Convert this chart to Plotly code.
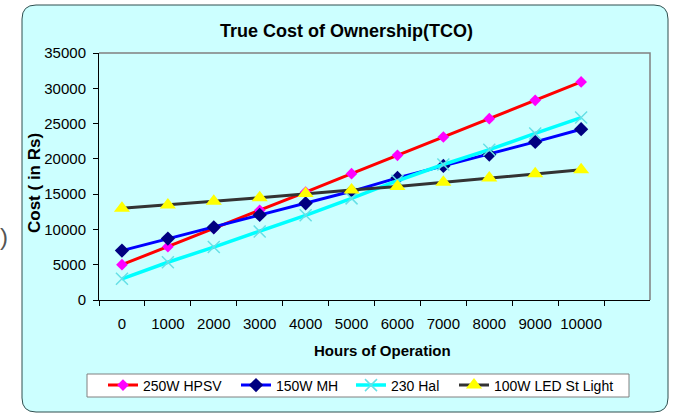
import plotly.graph_objects as go

# ---------------- data ----------------
hours = ["0", "1000", "2000", "3000", "4000", "5000", "6000", "7000", "8000", "9000", "10000"]
hpsv_250w = [5000, 7550, 10150, 12700, 15300, 17900, 20500, 23100, 25700, 28300, 30900]
mh_150w = [7000, 8700, 10300, 12050, 13700, 15400, 17300, 19000, 20600, 22400, 24200]
hal_230 = [3000, 5350, 7500, 9700, 12000, 14400, 16900, 19200, 21300, 23600, 25850]
led_100w = [13000, 13450, 14000, 14500, 15100, 15600, 16100, 16700, 17300, 17900, 18450]
y_ticks = [0, 5000, 10000, 15000, 20000, 25000, 30000, 35000]
series_names = ["250W HPSV", "150W MH", "230 Hal", "100W LED St Light"]

# ---------------- layout geometry (pixels) ----------------
W, H = 673, 414
L, R, T, B = 99, 23, 53, 114
PW, PH = W - L - R, H - T - B


def fx(p):
    return (p - L) / PW


def fy(p):
    return (H - B - p) / PH


FONT = "Liberation Sans, Arial, sans-serif"

fig = go.Figure()
fig.add_trace(go.Scatter(
    x=hours, y=hpsv_250w, name=series_names[0], mode="lines+markers", legend="legend",
    line=dict(color="#FF0000", width=3),
    marker=dict(symbol="diamond", size=9, color="#FF00FF")))
fig.add_trace(go.Scatter(
    x=hours, y=mh_150w, name=series_names[1], mode="lines+markers", legend="legend2",
    line=dict(color="#0000FF", width=3),
    marker=dict(symbol="diamond", size=11, color="#000080")))
fig.add_trace(go.Scatter(
    x=hours, y=hal_230, name=series_names[2], mode="lines+markers", legend="legend3",
    line=dict(color="#00FFFF", width=3.5),
    marker=dict(symbol="x-thin", size=12, color="#66E0E6",
                line=dict(color="#66E0E6", width=1.5))))
fig.add_trace(go.Scatter(
    x=hours, y=led_100w, name=series_names[3], mode="lines+markers", legend="legend4",
    line=dict(color="#333333", width=3),
    marker=dict(symbol="triangle-up", size=14, color="#FFFF00")))

shapes = []
r = 14
x0, x1, y0, y1 = 22, 668, 5, 412
path = (f"M {fx(x0 + r)},{fy(y0)} L {fx(x1 - r)},{fy(y0)} "
        f"Q {fx(x1)},{fy(y0)} {fx(x1)},{fy(y0 + r)} L {fx(x1)},{fy(y1 - r)} "
        f"Q {fx(x1)},{fy(y1)} {fx(x1 - r)},{fy(y1)} L {fx(x0 + r)},{fy(y1)} "
        f"Q {fx(x0)},{fy(y1)} {fx(x0)},{fy(y1 - r)} L {fx(x0)},{fy(y0 + r)} "
        f"Q {fx(x0)},{fy(y0)} {fx(x0 + r)},{fy(y0)} Z")
shapes.append(dict(type="path", path=path, xref="paper", yref="paper", layer="below",
                   fillcolor="#CCFFFF", line=dict(color="#2F4F4F", width=1)))
# legend box
shapes.append(dict(type="rect", xref="paper", yref="paper", layer="below",
                   x0=fx(87), x1=fx(629), y0=fy(374), y1=fy(397),
                   fillcolor="#FFFFFF", line=dict(color="#808080", width=1)))
# plot-area border (top and right)
shapes.append(dict(type="path", xref="paper", yref="paper", layer="above",
                   path="M 0,1 L 1,1 L 1,0", line=dict(color="#808080", width=1.5)))

annotations = [
    dict(text="<b>True Cost of Ownership(TCO)</b>", x=fx(346), y=fy(31), xref="paper", yref="paper",
         xanchor="center", yanchor="middle", showarrow=False,
         font=dict(family=FONT, size=18, color="#000000")),
    dict(text="<b>Hours of Operation</b>", x=fx(382), y=fy(350), xref="paper", yref="paper",
         xanchor="center", yanchor="middle", showarrow=False,
         font=dict(family=FONT, size=15, color="#000000")),
    dict(text="<b>Cost ( in Rs)</b>", x=fx(34), y=fy(183), xref="paper", yref="paper",
         xanchor="center", yanchor="middle", showarrow=False, textangle=-90,
         font=dict(family=FONT, size=17, color="#000000")),
    dict(text=")", x=fx(4), y=fy(236), xref="paper", yref="paper",
         xanchor="center", yanchor="middle", showarrow=False,
         font=dict(family=FONT, size=24, color="#555555")),
]

# legend text start positions (px)
text_starts = [142, 275, 390, 493]
legend_common = dict(orientation="h", yanchor="middle", xanchor="left",
                     bgcolor="rgba(0,0,0,0)", borderwidth=0,
                     font=dict(family=FONT, size=14, color="#000000"))
legends = {}
for i, ts in enumerate(text_starts):
    key = "legend" if i == 0 else f"legend{i + 1}"
    legends[key] = dict(legend_common, x=fx(ts - 39), y=fy(385.5))

fig.update_layout(
    width=W, height=H,
    margin=dict(l=L, r=R, t=T, b=B, pad=0),
    paper_bgcolor="#FFFFFF", plot_bgcolor="#CCFFCC",
    font=dict(family=FONT, size=15, color="#000000"),
    showlegend=True,
    shapes=shapes, annotations=annotations,
    **legends,
)
fig.update_xaxes(type="category", categoryorder="array", categoryarray=hours,
                 range=[-0.5, 11.5], tickson="boundaries", ticks="outside", ticklen=5,
                 tickangle=0,
                 tickcolor="#000000", showline=True, linecolor="#000000", linewidth=1,
                 showgrid=False, zeroline=False, ticklabelstandoff=10,
                 tickfont=dict(family=FONT, size=15))
fig.update_yaxes(range=[0, 35000], tickvals=y_ticks, ticktext=[str(v) for v in y_ticks],
                 ticks="outside", ticklen=5,
                 tickcolor="#000000", showline=True, linecolor="#000000", linewidth=1,
                 showgrid=False, zeroline=False, ticklabelstandoff=4,
                 tickfont=dict(family=FONT, size=15))

fig.write_html("out.html", config={"displayModeBar": False},
               post_script="document.body.style.margin='0px';")
